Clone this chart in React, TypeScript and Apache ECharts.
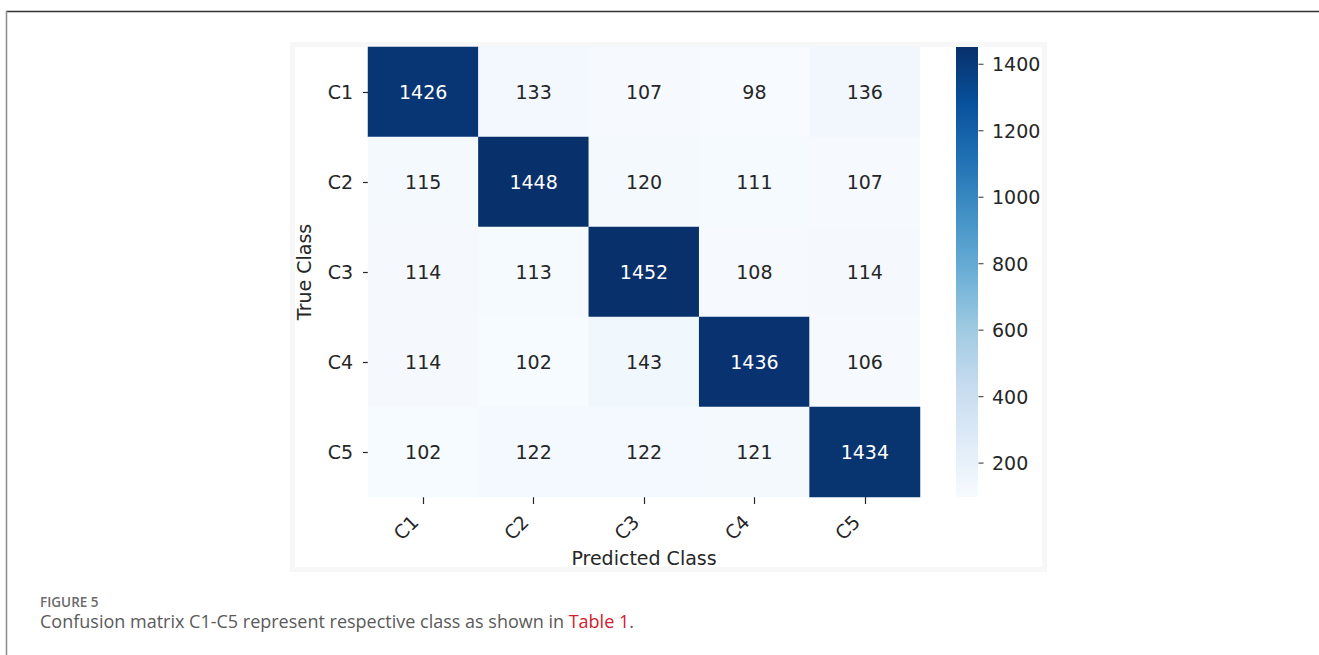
import React, { useEffect, useRef } from "react";
import * as echarts from "echarts";

const predictedClasses = ["C1", "C2", "C3", "C4", "C5"];
const trueClasses = ["C1", "C2", "C3", "C4", "C5"];
const rowC1 = [1426, 133, 107, 98, 136];
const rowC2 = [115, 1448, 120, 111, 107];
const rowC3 = [114, 113, 1452, 108, 114];
const rowC4 = [114, 102, 143, 1436, 106];
const rowC5 = [102, 122, 122, 121, 1434];
const matrix = [rowC1, rowC2, rowC3, rowC4, rowC5];
const colorbarTicks = [200, 400, 600, 800, 1000, 1200, 1400];
const blues = ["#f7fbff", "#deebf7", "#c6dbef", "#9ecae1", "#6baed6", "#4292c6", "#2171b5", "#08519c", "#08306b"];

const FONT = "DejaVu Sans";
const TXT = "#262626";

export default function App() {
  const ref = useRef<HTMLDivElement>(null);
  useEffect(() => {
    if (!ref.current) return;
    const chart = echarts.init(ref.current, undefined, { renderer: "svg" });
    const all = matrix.flat();
    const vmin = Math.min(...all);
    const vmax = Math.max(...all);
    const data: any[] = [];
    matrix.forEach((row, r) => {
      row.forEach((v, c) => {
        data.push({
          value: [c, r, v],
          label: { color: v > (vmin + vmax) / 2 ? "#ffffff" : TXT },
        });
      });
    });
    const gradientStops = blues
      .slice()
      .reverse()
      .map((color, i) => ({ offset: i / (blues.length - 1), color }));
    chart.setOption({
      animation: false,
      backgroundColor: "#ffffff",
      grid: [
        { left: 368, top: 47, width: 552, height: 450 },
        { left: 956, top: 47, width: 22, height: 450 },
      ],
      xAxis: [
        {
          type: "category",
          gridIndex: 0,
          data: predictedClasses,
          position: "bottom",
          axisLine: { show: false },
          axisTick: { show: true, alignWithLabel: true, length: 7, lineStyle: { color: TXT, width: 1.2 } },
          axisLabel: { rotate: 45, margin: 13, padding: [0, 12, 0, 0], fontFamily: FONT, fontSize: 19, color: TXT },
          splitLine: { show: false },
        },
        { type: "value", gridIndex: 1, min: 0, max: 1, show: false },
      ],
      yAxis: [
        {
          type: "category",
          gridIndex: 0,
          data: trueClasses,
          inverse: true,
          axisLine: { show: false },
          axisTick: { show: true, alignWithLabel: true, length: 5, lineStyle: { color: TXT, width: 1.2 } },
          axisLabel: { margin: 15, fontFamily: FONT, fontSize: 19, color: TXT },
          splitLine: { show: false },
        },
        {
          type: "value",
          gridIndex: 1,
          position: "right",
          min: vmin,
          max: vmax,
          axisLine: { show: false },
          splitLine: { show: false },
          axisTick: { show: false },
          axisLabel: {
            margin: 14,
            fontFamily: FONT,
            fontSize: 19,
            color: TXT,
            customValues: colorbarTicks,
            formatter: (v: number) => String(v),
          },
        },
      ],
      visualMap: {
        type: "continuous",
        show: false,
        min: vmin,
        max: vmax,
        seriesIndex: 0,
        inRange: { color: blues },
      },
      graphic: [
        {
          type: "rect",
          z: -10,
          silent: true,
          shape: { x: 292.5, y: 44.5, width: 752, height: 525 },
          style: { fill: "#ffffff", stroke: "#f7f7f7", lineWidth: 5 },
        },
        {
          type: "rect",
          silent: true,
          shape: { x: 956, y: 47, width: 22, height: 450 },
          style: {
            fill: new echarts.graphic.LinearGradient(0, 0, 0, 1, gradientStops),
          },
        },
        {
          type: "line",
          silent: true,
          shape: { x1: 6, y1: 11.5, x2: 1319, y2: 11.5 },
          style: { stroke: "#333333", lineWidth: 1.5 },
        },
        {
          type: "line",
          silent: true,
          shape: { x1: 6.5, y1: 11, x2: 6.5, y2: 655 },
          style: { stroke: "#8a8a8a", lineWidth: 1.5 },
        },
        {
          type: "text",
          silent: true,
          x: 644,
          y: 558,
          style: { text: "Predicted Class", fontFamily: FONT, fontSize: 19, fill: TXT, align: "center", verticalAlign: "middle" },
        },
        {
          type: "text",
          silent: true,
          x: 304,
          y: 272,
          rotation: Math.PI / 2,
          style: { text: "True Class", fontFamily: FONT, fontSize: 19, fill: TXT, align: "center", verticalAlign: "middle" },
        },
        {
          type: "text",
          silent: true,
          x: 40,
          y: 602,
          style: { text: "FIGURE 5", fontFamily: "Open Sans", fontWeight: 600, fontSize: 13.5, fill: "#6b6b6b", verticalAlign: "middle" },
        },
        {
          type: "text",
          silent: true,
          x: 40,
          y: 621,
          style: {
            text: "{a|Confusion matrix C1-C5 represent respective class as shown in }{b|Table 1}{a|.}",
            verticalAlign: "middle",
            rich: {
              a: { fontFamily: "Open Sans", fontSize: 18, fill: "#5a5a5a" },
              b: { fontFamily: "Open Sans", fontSize: 18, fill: "#d0202e" },
            },
          },
        },
      ],
      series: [
        {
          type: "heatmap",
          xAxisIndex: 0,
          yAxisIndex: 0,
          data,
          label: { show: true, fontFamily: FONT, fontSize: 19 },
          itemStyle: { borderWidth: 0 },
          emphasis: { disabled: true },
        },
        {
          type: "scatter",
          xAxisIndex: 1,
          yAxisIndex: 1,
          silent: true,
          symbol: "rect",
          symbolSize: [5, 1.2],
          symbolOffset: [3, 0],
          itemStyle: { color: TXT },
          data: colorbarTicks.map((t) => [1, t]),
        },
      ],
    });
    return () => chart.dispose();
  }, []);
  return <div ref={ref} style={{ position: "fixed", left: 0, top: 0, width: 1319, height: 655 }} />;
}
